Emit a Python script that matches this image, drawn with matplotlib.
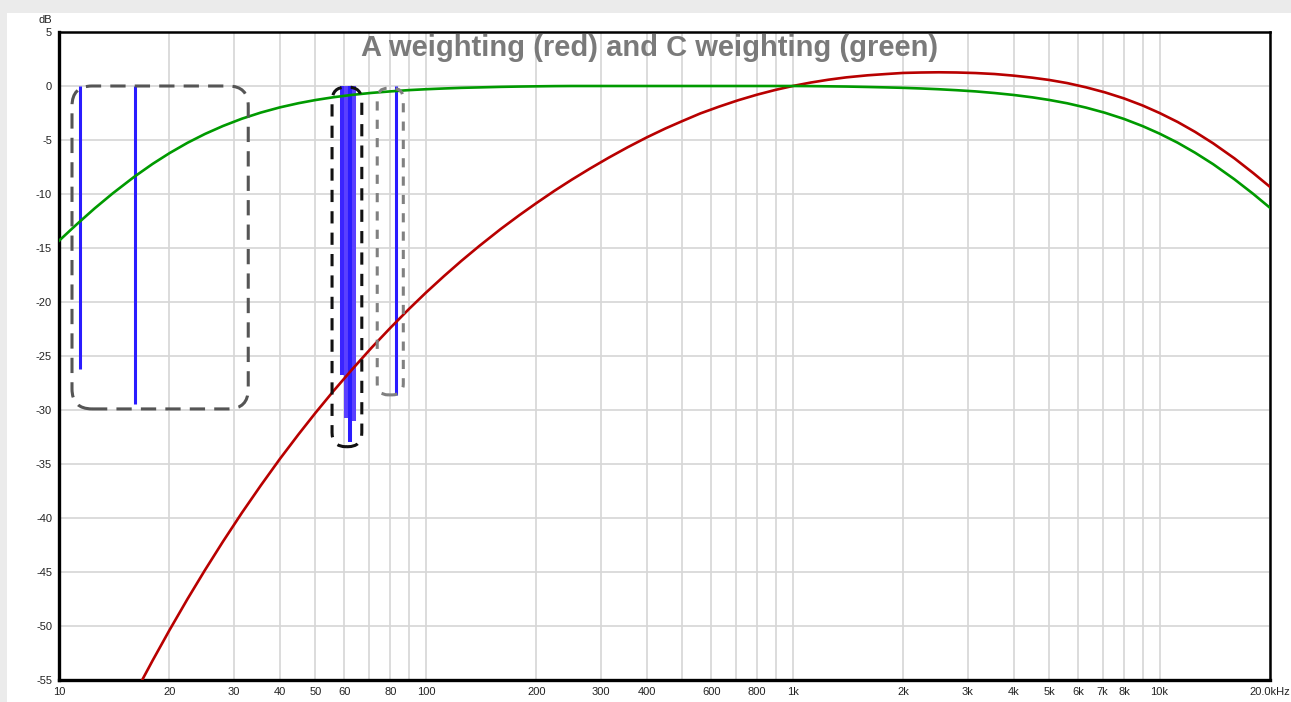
import matplotlib
matplotlib.use("Agg")
import matplotlib.pyplot as plt
from matplotlib.patches import FancyBboxPatch, Rectangle
from matplotlib.transforms import IdentityTransform

# curve values (Hz, dB)
freqs = [10, 11.2, 12.5, 14, 16, 18, 20, 22.4, 25, 28, 31.5, 35.5, 40, 45, 50,
         56, 63, 71, 80, 90, 100, 112, 125, 140, 160, 180, 200, 224, 250, 280,
         315, 355, 400, 450, 500, 560, 630, 710, 800, 900, 1000, 1120, 1250,
         1400, 1600, 1800, 2000, 2240, 2500, 2800, 3150, 3550, 4000, 4500,
         5000, 5600, 6300, 7100, 8000, 9000, 10000, 11200, 12500, 14000,
         16000, 18000, 20000]
a_db = [-70.43, -66.93, -63.58, -60.25, -56.43, -53.19, -50.39, -47.50, -44.82,
        -42.17, -39.53, -36.98, -34.53, -32.24, -30.27, -28.24, -26.23, -24.26,
        -22.40, -20.64, -19.14, -17.61, -16.19, -14.80, -13.24, -11.95, -10.85,
        -9.71, -8.67, -7.65, -6.64, -5.67, -4.76, -3.93, -3.25, -2.54, -1.91,
        -1.32, -0.80, -0.35, 0.00, 0.32, 0.58, 0.80, 0.99, 1.11, 1.21, 1.25,
        1.27, 1.25, 1.20, 1.11, 0.96, 0.77, 0.56, 0.27, -0.12, -0.59, -1.15,
        -1.81, -2.50, -3.33, -4.25, -5.31, -6.70, -8.06, -9.34]
c_db = [-14.33, -12.78, -11.34, -9.95, -8.43, -7.21, -6.22, -5.26, -4.44,
        -3.70, -3.03, -2.46, -1.98, -1.59, -1.30, -1.04, -0.82, -0.64, -0.50,
        -0.38, -0.30, -0.23, -0.17, -0.13, -0.08, -0.05, -0.03, -0.01, 0.0,
        0.0, 0.0, 0.0, 0.0, 0.0, 0.0, 0.0, 0.0, 0.0, 0.0, 0.0, 0.0, -0.01,
        -0.03, -0.05, -0.09, -0.13, -0.17, -0.23, -0.30, -0.39, -0.50, -0.65,
        -0.83, -1.05, -1.29, -1.60, -2.00, -2.48, -3.05, -3.72, -4.41, -5.25,
        -6.18, -7.24, -8.64, -9.99, -11.28]

# blue marker lines: frequency and lowest level
tone_freqs = [11.4, 16.1, 59.1, 60.6, 62.2, 63.8, 82.9]
tone_bottoms = [-26.2, -29.4, -26.8, -30.7, -33.0, -31.0, -28.6]
tone_widths = [2.2, 2.2, 2.9, 2.9, 2.9, 2.9, 2.2]
tone_colors = ['#2a1cff', '#2a1cff', '#3a24ff', '#5a40ff', '#2a1cff', '#5a40ff', '#2a1cff']

# dashed highlight boxes: f_low, f_high, dB_top, dB_bottom
box_flo = [10.85, 55.5, 73.7]
box_fhi = [32.8, 66.9, 86.8]
box_top = [0.0, -0.1, -0.2]
box_bot = [-29.9, -33.4, -28.6]

xtick_vals = [10, 20, 30, 40, 50, 60, 80, 100, 200, 300, 400, 600, 800, 1000,
              2000, 3000, 4000, 5000, 6000, 7000, 8000, 10000, 20000]
xtick_text = ["10", "20", "30", "40", "50", "60", "80", "100", "200", "300",
              "400", "600", "800", "1k", "2k", "3k", "4k", "5k", "6k", "7k",
              "8k", "10k", "20.0kHz"]
grid_freqs = [20, 30, 40, 50, 60, 70, 80, 90, 100, 200, 300, 400, 500, 600,
              700, 800, 900, 1000, 2000, 3000, 4000, 5000, 6000, 7000, 8000,
              9000, 10000]
ytick_vals = list(range(-55, 6, 5))

plt.rcParams['font.family'] = ['Liberation Sans', 'DejaVu Sans']

fig = plt.figure(figsize=(12.91, 7.02), dpi=100, facecolor='#ebebeb')
fig.patches.append(Rectangle((7 / 1291, 0), 1, 689 / 702, transform=fig.transFigure,
                             facecolor='white', edgecolor='none', zorder=-1))
ax = fig.add_axes([59 / 1291, 22 / 702, 1211 / 1291, 648 / 702])
ax.set_xscale('log')
ax.set_xlim(10, 20000)
ax.set_ylim(-55, 5)

ax.set_xticks(grid_freqs, minor=True)
ax.set_xticks(xtick_vals)
ax.set_xticklabels(xtick_text, fontsize=8, color='#222222')
ax.xaxis.set_minor_formatter(plt.NullFormatter())
ax.set_yticks(ytick_vals)
ax.set_yticklabels([str(v) for v in ytick_vals], fontsize=8, color='#222222')
ax.tick_params(axis='both', which='both', length=0, pad=5)
ax.grid(True, which='both', color='#d6d6d6', linewidth=1.2)
ax.set_axisbelow(True)
for side, lw in [('left', 2.4), ('bottom', 2.4), ('top', 1.8), ('right', 1.8)]:
    ax.spines[side].set_linewidth(lw)
    ax.spines[side].set_color('black')

fig.text(45 / 1291, 1 - 20 / 702, "dB", fontsize=8, ha='center', va='center', color='#222222')

# blue tone lines
for f, b, w, c in zip(tone_freqs, tone_bottoms, tone_widths, tone_colors):
    ax.plot([f, f], [0, b], color=c, linewidth=w, solid_capstyle='butt', zorder=3)

ax.plot(freqs, a_db, color='#b80000', linewidth=1.9, zorder=4)
ax.plot(freqs, c_db, color='#009a00', linewidth=1.9, zorder=4)

ax.text(0.488, 0.975, "A weighting (red) and C weighting (green)", transform=ax.transAxes,
        fontsize=21, fontweight='bold', color='#7a7a7a', ha='center', va='center')

# dashed boxes drawn in pixel space so the corners stay round
box_colors = ['#555555', '#111111', '#808080']
box_radius = [20, 14, 11]
box_dash = [(0, (5, 3)), (0, (4, 3)), (0, (3, 3))]
for lo, hi, top, bot, col, r, ls in zip(box_flo, box_fhi, box_top, box_bot,
                                        box_colors, box_radius, box_dash):
    x0, y0 = ax.transData.transform((lo, bot))
    x1, y1 = ax.transData.transform((hi, top))
    patch = FancyBboxPatch((x0, y0), x1 - x0, y1 - y0,
                           boxstyle=f"round,pad=0,rounding_size={r}",
                           transform=IdentityTransform(), fill=False,
                           edgecolor=col, linewidth=2.2, linestyle=ls, zorder=5)
    fig.patches.append(patch)

fig.savefig("out.png", dpi=100, facecolor=fig.get_facecolor())
